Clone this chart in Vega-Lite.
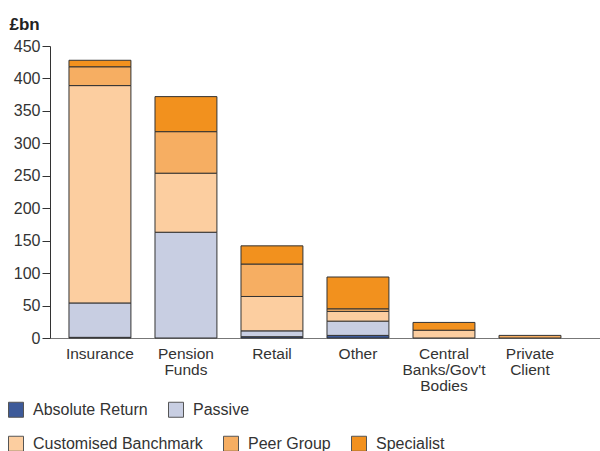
{
  "$schema": "https://vega.github.io/schema/vega-lite/v6.json",
  "width": 550,
  "height": 292,
  "autosize": "none",
  "padding": {"left": 50, "top": 46, "right": 0, "bottom": 113},
  "background": "white",
  "config": {
    "font": "Liberation Sans",
    "view": {"stroke": null},
    "axis": {"labelColor": "#333", "titleColor": "#222", "grid": false},
    "legend": {
      "symbolType": "square",
      "symbolSize": 225,
      "symbolStrokeColor": "#555",
      "symbolStrokeWidth": 1,
      "labelFontSize": 16,
      "labelColor": "#333",
      "labelOffset": 9,
      "columnPadding": 18,
      "labelLimit": 400,
      "direction": "horizontal",
      "orient": "none"
    }
  },
  "data": {
    "values": [
      {"sector": "Insurance", "type": "Absolute Return", "value": 1},
      {"sector": "Insurance", "type": "Passive", "value": 53},
      {"sector": "Insurance", "type": "Customised Banchmark", "value": 335},
      {"sector": "Insurance", "type": "Peer Group", "value": 29},
      {"sector": "Insurance", "type": "Specialist", "value": 10},
      {"sector": "Pension|Funds", "type": "Passive", "value": 163},
      {"sector": "Pension|Funds", "type": "Customised Banchmark", "value": 91},
      {"sector": "Pension|Funds", "type": "Peer Group", "value": 64},
      {"sector": "Pension|Funds", "type": "Specialist", "value": 54},
      {"sector": "Retail", "type": "Absolute Return", "value": 2},
      {"sector": "Retail", "type": "Passive", "value": 9},
      {"sector": "Retail", "type": "Customised Banchmark", "value": 53},
      {"sector": "Retail", "type": "Peer Group", "value": 50},
      {"sector": "Retail", "type": "Specialist", "value": 28},
      {"sector": "Other", "type": "Absolute Return", "value": 4},
      {"sector": "Other", "type": "Passive", "value": 22},
      {"sector": "Other", "type": "Customised Banchmark", "value": 15},
      {"sector": "Other", "type": "Peer Group", "value": 4},
      {"sector": "Other", "type": "Specialist", "value": 49},
      {"sector": "Central|Banks/Gov't|Bodies", "type": "Customised Banchmark", "value": 12},
      {"sector": "Central|Banks/Gov't|Bodies", "type": "Specialist", "value": 12},
      {"sector": "Private|Client", "type": "Peer Group", "value": 4}
    ]
  },
  "transform": [
    {"calculate": "indexof(['Absolute Return','Passive','Customised Banchmark','Peer Group','Specialist'], datum.type)", "as": "stackOrder"},
    {"stack": "value", "groupby": ["sector"], "sort": [{"field": "stackOrder", "order": "ascending"}], "as": ["y0", "y1"]}
  ],
  "encoding": {
    "x": {
      "field": "sector",
      "type": "nominal",
      "sort": ["Insurance", "Pension|Funds", "Retail", "Other", "Central|Banks/Gov't|Bodies", "Private|Client"],
      "scale": {"paddingInner": 0.28, "paddingOuter": 0.3375, "align": 0.327},
      "axis": {
        "title": null,
        "labelAngle": 0,
        "labelExpr": "split(datum.label, '|')",
        "labelFontSize": 15.5,
        "labelLineHeight": 16,
        "labelPadding": 8,
        "labelBaseline": "top",
        "ticks": false,
        "domainColor": "#777",
        "domainWidth": 1.2
      }
    },
    "y": {
      "field": "y0",
      "type": "quantitative",
      "scale": {"domain": [0, 450], "nice": false},
      "axis": {
        "title": "£bn",
        "titleAngle": 0,
        "titleAlign": "left",
        "titleBaseline": "alphabetic",
        "titleX": -41,
        "titleY": -17,
        "titleFontSize": 17,
        "titleFontWeight": "bold",
        "values": [0, 50, 100, 150, 200, 250, 300, 350, 400, 450],
        "labelFontSize": 16,
        "labelPadding": 2,
        "tickSize": 8,
        "tickColor": "#333",
        "domainColor": "#333"
      }
    },
    "y2": {"field": "y1"}
  },
  "layer": [
    {
      "transform": [{"filter": "datum.stackOrder < 2"}],
      "mark": {"type": "bar", "stroke": "#333", "strokeWidth": 1},
      "encoding": {
        "color": {
          "field": "type",
          "type": "nominal",
          "scale": {
            "domain": ["Absolute Return", "Passive"],
            "range": ["#3d5a99", "#c8cee2"]
          },
          "legend": {"title": null, "legendX": -42, "legendY": 355.5}
        }
      }
    },
    {
      "transform": [{"filter": "datum.stackOrder >= 2"}],
      "mark": {"type": "bar", "stroke": "#333", "strokeWidth": 1},
      "encoding": {
        "fill": {
          "field": "type",
          "type": "nominal",
          "scale": {
            "domain": ["Customised Banchmark", "Peer Group", "Specialist"],
            "range": ["#fccea0", "#f6ae62", "#f2911e"]
          },
          "legend": {"title": null, "legendX": -42, "legendY": 389.5}
        }
      }
    }
  ]
}
